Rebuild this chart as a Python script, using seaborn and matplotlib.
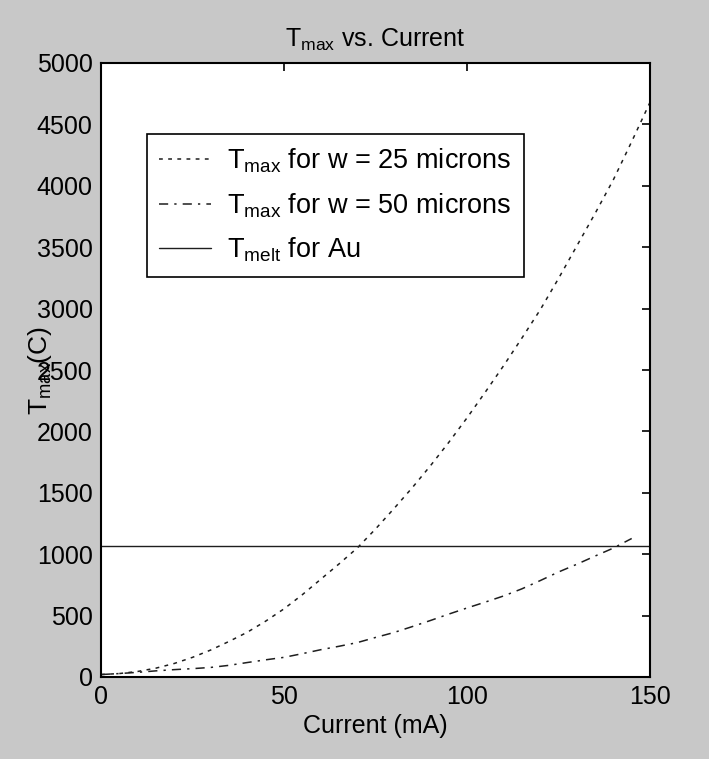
import pandas as pd
import seaborn as sns
import numpy as np
from matplotlib import pyplot as plt

# corrente (mA) e temperatura maxima (C)
current = [0, 5, 10, 15, 20, 25, 30, 35, 40, 45, 50, 55, 60, 65, 70, 75,
           80, 85, 90, 95, 100, 105, 110, 115, 120, 125, 130, 135, 140, 145, 150]
tmax_w25 = [20, 28, 45, 72, 110, 160, 220, 290, 365, 455, 555, 670, 795, 920, 1050, 1205,
            1370, 1540, 1720, 1910, 2110, 2320, 2535, 2760, 2990, 3245, 3510, 3775, 4050, 4360, 4680]
tmax_w50 = [20, 28, 38, 50, 60, 68, 78, 95, 118, 140, 160, 190, 222, 250, 280, 322,
            362, 410, 460, 512, 562, 610, 660, 718, 785, 855, 918, 985, 1050, 1128]
melt_x = [0, 150]
melt_au = [1064, 1064]

labels = [r'$\mathregular{T_{max}}$ for w = 25 microns',
          r'$\mathregular{T_{max}}$ for w = 50 microns',
          r'$\mathregular{T_{melt}}$ for Au']

df25 = pd.DataFrame({'current': current, 'tmax': tmax_w25})
df50 = pd.DataFrame({'current': current[:len(tmax_w50)], 'tmax': tmax_w50})
dfmelt = pd.DataFrame({'current': melt_x, 'tmax': melt_au})

sns.set_style('white')
plt.rcParams['font.family'] = ['Liberation Sans', 'DejaVu Sans']
plt.rcParams['mathtext.fontset'] = 'custom'
plt.rcParams['mathtext.rm'] = 'Liberation Sans'
plt.rcParams['text.color'] = 'black'
plt.rcParams['axes.labelcolor'] = 'black'

fig = plt.figure(figsize=(7.09, 7.59), dpi=100, facecolor='#c8c8c8')
ax = fig.add_axes([101 / 709, 1 - 677 / 759, 549 / 709, 614 / 759])
ax.set_facecolor('white')

line_color = '#1e1e1e'
sns.lineplot(data=df25, x='current', y='tmax', ax=ax, color=line_color, lw=1.1,
             label=labels[0]).lines[-1].set_dashes((2.5, 3.5))
sns.lineplot(data=df50, x='current', y='tmax', ax=ax, color=line_color, lw=1.1,
             label=labels[1]).lines[-1].set_dashes((6, 4, 1.5, 4))
sns.lineplot(data=dfmelt, x='current', y='tmax', ax=ax, color=line_color, lw=1.0,
             label=labels[2])

ax.set_xlim(0, 150)
ax.set_ylim(0, 5000)
ax.set_xticks([0, 50, 100, 150])
ax.set_yticks(np.arange(0, 5001, 500))
ax.tick_params(direction='in', length=6, width=1.2, top=True, right=True,
               labelsize=18, pad=6, colors='black')
for s in ax.spines.values():
    s.set_color('black')
    s.set_linewidth(1.5)

ax.set_xlabel('Current (mA)', fontsize=18, labelpad=3)
ax.set_ylabel(r'$\mathregular{T_{max}}$(C)', fontsize=19)
ax.yaxis.set_label_coords(-0.085, 0.5)
ax.set_title(r'$\mathregular{T_{max}}$ vs. Current', fontsize=18, pad=12)

leg = ax.legend(loc='upper left', bbox_to_anchor=(0.084, 0.884), borderaxespad=0,
                fontsize=19.5, frameon=True, fancybox=False, edgecolor='black',
                framealpha=1, handlelength=1.9, handletextpad=0.6, borderpad=0.45,
                labelspacing=0.6)
leg.get_frame().set_linewidth(1.2)

fig.savefig('out.png', dpi=100, facecolor=fig.get_facecolor())
